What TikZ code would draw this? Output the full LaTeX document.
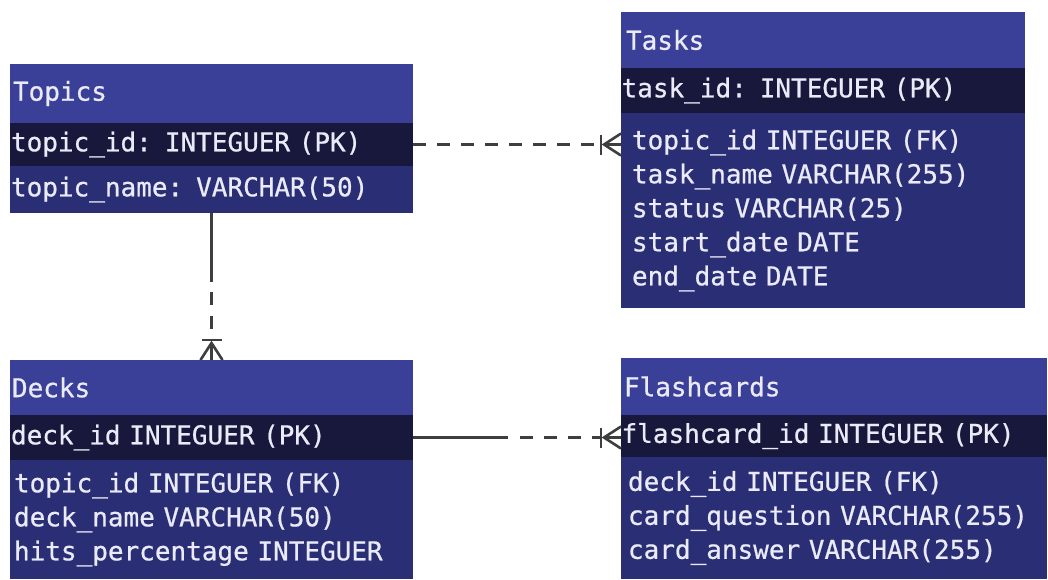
\documentclass[tikz,border=0pt]{standalone}
\usepackage{fontspec}
\newfontfamily\rowfont{DejaVu Sans Mono}[FakeBold=0.7]
\usetikzlibrary{calc}
\definecolor{head_blue}{RGB}{58, 63, 152}
\definecolor{key_navy}{RGB}{24, 24, 60}
\definecolor{body_blue}{RGB}{42, 46, 116}
\definecolor{row_text}{RGB}{234, 234, 248}
\definecolor{link_grey}{RGB}{62, 62, 62}
\tikzstyle{tab}=[anchor=north west,inner ysep=0pt,outer sep=0pt,align=left,
  text=row_text,font=\rowfont\fontsize{13}{17}\selectfont]
\tikzset{th/.style 2 args={tab,fill=head_blue,text width=#1,inner xsep=#2},
  tk/.style 2 args={tab,fill=key_navy,text width=#1,inner xsep=#2},
  tb/.style 2 args={tab,fill=body_blue,text width=#1,inner xsep=#2}}
\tikzstyle{link}=[draw=link_grey,line width=1.3pt]
\tikzstyle{dashlink}=[dash pattern=on 6.5pt off 5.5pt]
\tikzset{crow/.pic={
  \draw [link] (-20,-10) -- (-20,10);
  \draw [link] (0,-11) -- (-17,0) -- (0,11);
  \draw [link] (-17,0) -- (0,0);
}}

\begin{document}
\begin{tikzpicture}[x=0.5pt,y=-0.5pt]
            \useasboundingbox [fill=white] (0,0) rectangle (1048,579);
            % Topics
            \node [th={198.5pt}{1.5pt}, minimum height=29.5pt] (0) at (10, 64) {Topics};
            \node [tk={200.5pt}{0.5pt}, minimum height=21.5pt] (1) at (0.south west) {topic\_id: INTEGUER (PK)};
            \node [tb={200.5pt}{0.5pt}, minimum height=23.5pt] (2) at (1.south west) {topic\_name: VARCHAR(50)};
            % Tasks
            \node [th={197pt}{2.5pt}, minimum height=28pt] (3) at (621, 12) {Tasks};
            \node [tk={201.4pt}{0.3pt}, minimum height=22.5pt] (4) at (3.south west) {task\_id: INTEGUER (PK)};
            \node [tb={191pt}{5.5pt}, minimum height=97.5pt] (5) at (4.south west) {topic\_id INTEGUER (FK)\\
              task\_name VARCHAR(255)\\status VARCHAR(25)\\start\_date DATE\\end\_date DATE};
            % Decks
            \node [th={199.5pt}{1pt}, minimum height=27.5pt] (6) at (10, 360) {Decks};
            \node [tk={200.5pt}{0.5pt}, minimum height=22.5pt] (7) at (6.south west) {deck\_id INTEGUER (PK)};
            \node [tb={197.5pt}{2pt}, minimum height=59.5pt] (8) at (7.south west) {topic\_id INTEGUER (FK)\\
              deck\_name VARCHAR(50)\\hits\_percentage INTEGUER};
            % Flashcards
            \node [th={210pt}{1.5pt}, minimum height=28.5pt] (9) at (621, 358) {Flashcards};
            \node [tk={212.4pt}{0.3pt}, minimum height=21pt] (10) at (9.south west) {flashcard\_id INTEGUER (PK)};
            \node [tb={206pt}{3.5pt}, minimum height=61pt] (11) at (10.south west) {deck\_id INTEGUER (FK)\\
              card\_question VARCHAR(255)\\card\_answer VARCHAR(255)};
            % relations
            \coordinate (12) at ($(2.south)+(0,69)$);
            \coordinate (13) at ($(7.east)+(95,0)$);
            \draw [link, dashlink] (1.east) to ($(5.west |- 1.east)+(-20,0)$);
            \pic at (5.west |- 1.east) {crow};
            \draw [link] (2.south) to (12);
            \draw [link, dashlink] ($(12)+(0,10)$) to ($(6.north)+(0,-20)$);
            \pic [rotate=-90] at (6.north) {crow};
            \draw [link] (7.east) to (13);
            \draw [link, dashlink] ($(13)+(12,0)$) to ($(10.west |- 7.east)+(-20,0)$);
            \pic at (10.west |- 7.east) {crow};
    \end{tikzpicture}
\end{document}
